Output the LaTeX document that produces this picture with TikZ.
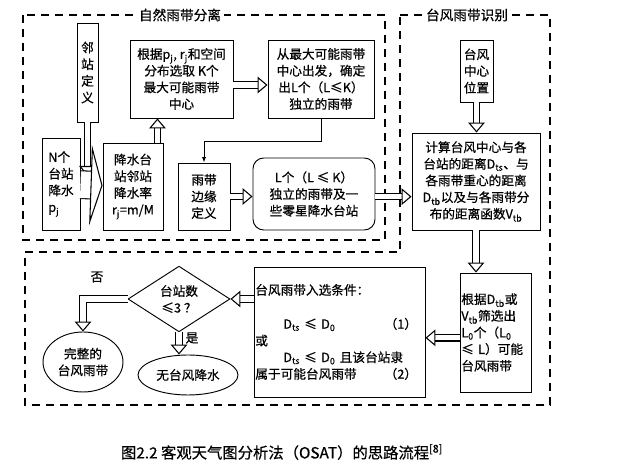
\documentclass[tikz,border=0pt]{standalone}
\usepackage{fontspec}
\setmainfont{Noto Sans CJK SC}[FakeBold=0.6]
\usetikzlibrary{arrows.meta,shapes.geometric}
\newcommand{\ix}[2]{#1\textsubscript{#2}}

\begin{document}
\begin{tikzpicture}[
  x=0.75pt, y=-0.75pt,
  font=\fontsize{9.5}{12.5}\selectfont,
  box/.style={draw,line width=0.7pt,inner sep=1pt,align=center},
  frame/.style={draw,line width=1.8pt,dash pattern=on 6pt off 4.5pt},
  title/.style={fill=white,inner sep=2pt,font=\fontsize{10.25}{12}\selectfont},
  hollow/.style={draw=white,line width=0.3pt,
                 -{Triangle[open,color=black,fill=white,line width=0.8pt,length=7.5pt,width=12.5pt]},
                 preaction={draw=black,-,double=white,double distance=4pt,line width=0.8pt,shorten >=7pt}},
  fat/.style={draw=white,line width=0.3pt,
              -{Triangle[open,color=black,fill=white,line width=0.8pt,length=9pt,width=60pt]},
              preaction={draw=black,-,double=white,double distance=20pt,line width=0.8pt,shorten >=8.5pt}},
  thin/.style={line width=0.7pt,-{Latex[length=4pt]}}
]
\useasboundingbox (0,0) rectangle (633,473);

% dashed frames
\draw[frame] (23,15) rectangle (385,240);
\draw[frame] (400,15) -- (550,15) -- (550,405) -- (25,405) -- (25,252) -- (400,252) -- cycle;
\node[title] (t1) at (180,15) {自然雨带分离};
\node[title] (t2) at (467,15) {台风雨带识别};

% upper part
\node[box,minimum width=15.75pt,minimum height=74.25pt] (nbr) at (87.5,72.5) {邻\\站\\定\\义};
\node[box,minimum width=77.25pt,minimum height=58.5pt] (cand) at (181.5,79)
  {根据\ix{p}{j}, \ix{r}{j}和空间\\分布选取 K个\\最大可能雨带\\中心};
\node[box,minimum width=79.5pt,minimum height=58.5pt] (indep) at (321,79)
  {从最大可能雨带\\中心出发，确定\\出L个（L≤K）\\独立的雨带};
\node[box,minimum width=24.75pt,minimum height=46.5pt] (tcpos) at (476.5,71) {台风\\中心\\位置};
\node[box,align=left,minimum width=28.5pt,minimum height=69pt] (pj) at (61,184)
  {N个\\台站\\降水\\\ix{p}{j}};
\node[box,minimum width=45pt,minimum height=65.25pt] (rate) at (133,186.5)
  {降水台\\站邻站\\降水率\\\ix{r}{j}=m/M};
\node[box,minimum width=39pt,minimum height=50.25pt] (edge) at (204,196.5) {雨带\\边缘\\定义};
\node[box,rounded corners=8pt,minimum width=91.5pt,minimum height=54pt] (bands) at (314,194)
  {L个（L ≤ K）\\独立的雨带及一\\些零星降水台站};
\node[box,minimum width=96pt,minimum height=72.75pt] (dist) at (476,181.5)
  {计算台风中心与各\\台站的距离\ix{D}{ts}、与\\各雨带重心的距离\\\ix{D}{tb}以及与各雨带分\\布的距离函数\ix{V}{tb}};

% lower part
\node[box,align=left,text width=59.25pt-8pt,minimum height=89.25pt] (screen) at (495.5,332.5)
  {根据\ix{D}{tb}或\\\ix{V}{tb}筛选出\\\ix{L}{0}个（\ix{L}{0}\\≤ L）可能\\台风雨带};
\node[box,align=left,text width=134.25pt-8pt,minimum height=97.5pt] (cond) at (339.5,332)
  {台风雨带入选条件：\\[13pt]
   \makebox[97pt][l]{\hspace*{21pt}\ix{D}{ts} ≤ \ix{D}{0}}（1）\\
   或\\
   \hspace*{21pt}\ix{D}{ts} ≤ \ix{D}{0}\ 且该台站隶\\
   \makebox[97pt][l]{属于可能台风雨带}（2）};
\node[box,diamond,inner sep=0pt,minimum width=76.5pt,minimum height=43.5pt] (dec) at (179,299)
  {台站数\\≤3 ？};
\node[box,ellipse,inner sep=0pt,minimum width=60pt,minimum height=45pt] (full) at (83,362)
  {完整的\\台风雨带};
\node[box,ellipse,inner sep=0pt,minimum width=75pt,minimum height=30pt] (none) at (188,375)
  {无台风降水};
\node (no) at (97,277) {否};
\node (yes) at (192,338) {是};

\node[font=\fontsize{11.5}{14}\selectfont] (cap) at (282,452)
  {图2.2 客观天气图分析法（OSAT）的思路流程\textsuperscript{[8]}};

% connectors
\coordinate (merge) at (87.5,176);
\draw[hollow] (nbr) -- (merge);
\draw[fat] (pj) -- (rate);
\draw[hollow] ([xshift=-4.5pt]rate.north east) -- ([xshift=-4.5pt]rate.north east |- cand.south);
\draw[hollow] ([yshift=-4.5pt]cand.east) -- ([yshift=-4.5pt]indep.west);
\draw[thin] (indep.south) -- ++(0,23) -| (edge.north);
\draw[hollow] (edge.east) -- (edge.east -| bands.west);
\draw[hollow] ([yshift=-2pt]bands.east) -- ([yshift=-2pt]bands.east -| dist.west);
\draw[hollow] (tcpos) -- (tcpos |- dist.north);
\draw[hollow] (dist.south) -- (dist.south |- screen.north);
\draw[hollow] ([yshift=-4pt]screen.west) -- ([yshift=-4pt]screen.west -| cond.east);
\draw[hollow] (cond.west |- dec.east) -- (dec.east);
\draw[hollow] (dec.west) -| (full.north);
\draw[hollow] (dec.south) -- (dec.south |- none.north);
\end{tikzpicture}
\end{document}
